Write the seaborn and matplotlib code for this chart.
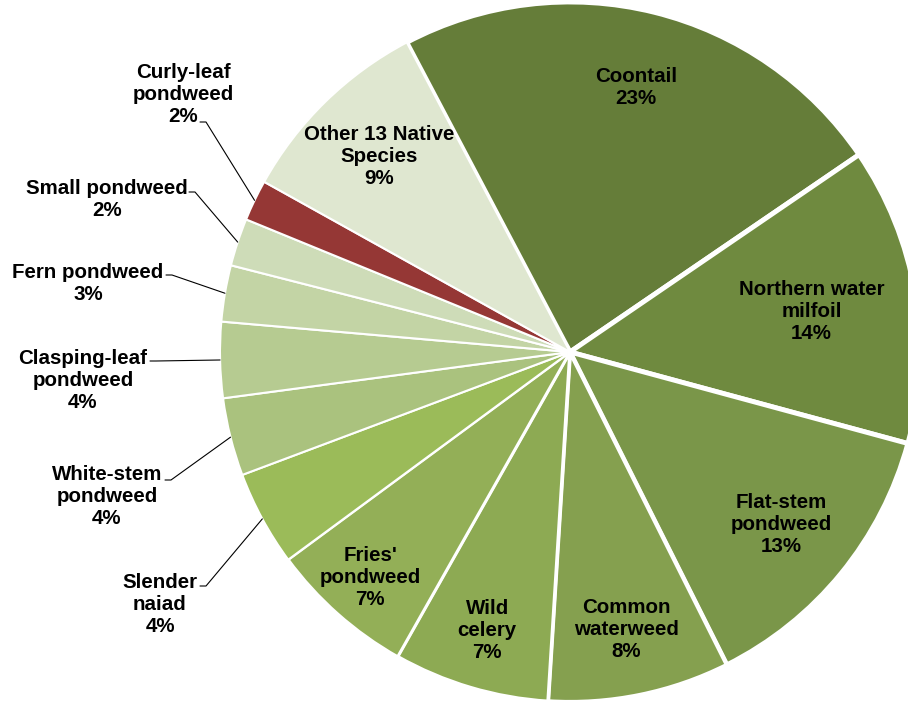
import matplotlib
matplotlib.use("Agg")
import matplotlib.pyplot as plt
import seaborn as sns
import numpy as np

# Species share of plant occurrences (percent)
species = ["Coontail", "Northern water\nmilfoil", "Flat-stem\npondweed", "Common\nwaterweed",
           "Wild\ncelery", "Fries'\npondweed", "Slender\nnaiad", "White-stem\npondweed",
           "Clasping-leaf\npondweed", "Fern pondweed", "Small pondweed", "Curly-leaf\npondweed",
           "Other 13 Native\nSpecies"]
share = [23.2, 13.75, 13.4, 8.4, 7.2, 6.7, 4.4, 3.6, 3.5, 2.6, 2.2, 1.9, 9.2]
pct_labels = [23, 14, 13, 8, 7, 7, 4, 4, 4, 3, 2, 2, 9]
colors = ["#657d39", "#6f8a3f", "#7a9649", "#85a04f", "#8daa53", "#93af57", "#9bbb59",
          "#aac27e", "#b6cb91", "#c3d4a5", "#cedcb8", "#953735", "#dfe7d0"]
edge_widths = [3.5, 3.5, 3.5, 3, 2.5, 2, 1.5, 1.5, 1.5, 1.5, 1.5, 1.5, 1.5]

sns.set_style("white")
plt.rcParams["font.family"] = ["Liberation Sans", "DejaVu Sans"]

W, H = 908, 702
CX, CY, R = 570, 352, 350  # pie centre / radius in pixels
FS = 14.8


def px(x, y):
    return (x - CX) / R, (CY - y) / R


fig = plt.figure(figsize=(W / 100, H / 100), dpi=100)
ax = fig.add_axes([0, 0, 1, 1])

start = 117.8
wedges, _ = ax.pie(share, colors=colors, startangle=start, counterclock=False,
                   radius=1.0, center=(0, 0), frame=True,
                   wedgeprops=dict(edgecolor="white", linewidth=1.5))
for w, lw in zip(wedges, edge_widths):
    w.set_linewidth(lw)
ax.set_xlim(-CX / R, (W - CX) / R)
ax.set_ylim(-(H - CY) / R, CY / R)
ax.set_aspect("equal")
ax.axis("off")

labels = [f"{s}\n{p}%" for s, p in zip(species, pct_labels)]
tot = sum(share)
cum = np.cumsum([0] + share)
mid = [start - 360 * (cum[i] + share[i] / 2) / tot for i in range(len(share))]

# inside labels: radial distance fraction
inside = {0: 0.78, 1: 0.70, 2: 0.78, 3: 0.81, 4: 0.83, 5: 0.86, 12: 0.78}
for i, rf in inside.items():
    a = np.radians(mid[i])
    ax.text(rf * np.cos(a), rf * np.sin(a), labels[i], ha="center", va="center",
            fontsize=FS, fontweight="bold", color="black", linespacing=1.2)

# outside labels: text centre and leader start (pixels)
outside = {
    6: ((160, 604), (200, 586)),
    7: ((107, 497), (165, 480)),
    8: ((83, 380), (150, 361)),
    9: ((88, 283), (166, 275)),
    10: ((107, 199.5), (189, 192)),
    11: ((183, 95), (200, 122)),
}
for i, (tc, ls) in outside.items():
    tx, ty = px(*tc)
    ax.text(tx, ty, labels[i], ha="center", va="center", fontsize=FS,
            fontweight="bold", color="black", linespacing=1.2)
    a = np.radians(mid[i])
    ex, ey = np.cos(a), np.sin(a)
    sx, sy = px(*ls)
    s2x, s2y = px(ls[0] + 6, ls[1])
    ax.plot([sx, s2x, ex], [sy, s2y, ey], color="black", linewidth=0.8)

fig.savefig("out.png", dpi=100)
